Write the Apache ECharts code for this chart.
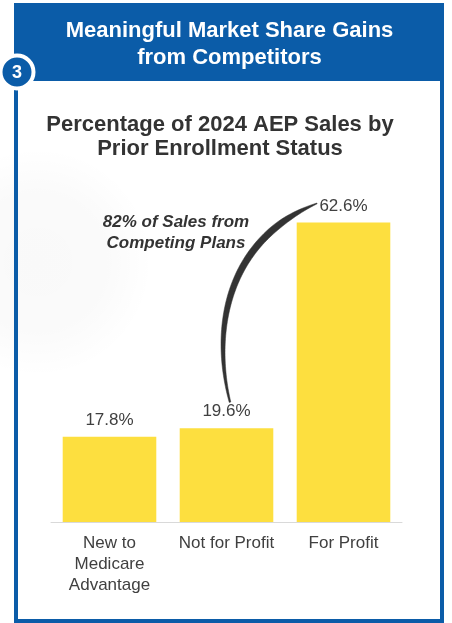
<!DOCTYPE html>
<html>
<head>
<meta charset="utf-8">
<script src="https://cdn.jsdelivr.net/npm/echarts@6/dist/echarts.min.js"></script>
<style>
  html, body { margin: 0; padding: 0; background: #ffffff; }
  #chart { width: 452px; height: 623px; }
</style>
</head>
<body>
<div id="chart"></div>
<script>
// Share of 2024 AEP sales by the member's prior enrollment status
const categories = ['New to\nMedicare\nAdvantage', 'Not for Profit', 'For Profit'];
const salesShare = [17.8, 19.6, 62.6];
const headerLines = ['Meaningful Market Share Gains', 'from Competitors'];
const chartTitleLines = ['Percentage of 2024 AEP Sales by', 'Prior Enrollment Status'];
const calloutLines = ['82% of Sales from', 'Competing Plans'];
const sectionNumber = '3';

const BLUE = '#0b5ca8';
const YELLOW = '#fddf3f';
const TEXT = '#404040';
const FONT = '"Liberation Sans", Arial, sans-serif';

const chart = echarts.init(document.getElementById('chart'), null, { renderer: 'canvas' });

// Static panel decoration: frame, header band, numbered badge, headings
function panelGraphics() {
  return [
    {
      type: 'circle', silent: true, z: 0,
      shape: { cx: 38, cy: 262, r: 115 },
      style: {
        fill: new echarts.graphic.RadialGradient(0.5, 0.5, 0.5, [
          { offset: 0, color: 'rgba(0,0,0,0.025)' },
          { offset: 0.6, color: 'rgba(0,0,0,0.018)' },
          { offset: 1, color: 'rgba(0,0,0,0)' }
        ])
      }
    },
    {
      type: 'rect', silent: true, z: 1,
      shape: { x: 16, y: 5, width: 426, height: 616 },
      style: { fill: 'none', stroke: BLUE, lineWidth: 4 }
    },
    {
      type: 'rect', silent: true, z: 2,
      shape: { x: 14, y: 3, width: 430, height: 78 },
      style: { fill: BLUE }
    },
    {
      type: 'text', silent: true, z: 3,
      style: {
        x: 229.5, y: 44.5, text: headerLines.join('\n'),
        fill: '#ffffff', font: 'bold 22px ' + FONT,
        align: 'center', verticalAlign: 'middle', lineHeight: 27
      }
    },
    {
      type: 'circle', silent: true, z: 4,
      shape: { cx: 17, cy: 72, r: 16.5 },
      style: { fill: BLUE, stroke: '#ffffff', lineWidth: 4 }
    },
    {
      type: 'text', silent: true, z: 5,
      style: {
        x: 17, y: 73, text: sectionNumber,
        fill: '#ffffff', font: 'bold 18px ' + FONT,
        align: 'center', verticalAlign: 'middle'
      }
    },
    {
      type: 'text', silent: true, z: 3,
      style: {
        x: 220, y: 136.5, text: chartTitleLines.join('\n'),
        fill: '#333333', font: 'bold 22px ' + FONT,
        align: 'center', verticalAlign: 'middle', lineHeight: 24
      }
    },
    {
      type: 'text', silent: true, z: 3,
      style: {
        x: 176, y: 232.5, text: calloutLines.join('\n'),
        fill: '#333333', font: 'italic bold 17px ' + FONT,
        align: 'center', verticalAlign: 'middle', lineHeight: 21
      }
    }
  ];
}

chart.setOption({
  backgroundColor: '#ffffff',
  animation: false,
  grid: { left: 51, right: 50, top: 187, bottom: 101, containLabel: false },
  xAxis: {
    type: 'category',
    data: categories,
    axisLine: { show: true, lineStyle: { color: '#d9d9d9', width: 1 } },
    axisTick: { show: false },
    axisLabel: {
      color: TEXT, fontSize: 17, fontFamily: FONT,
      lineHeight: 21, margin: 11, interval: 0
    }
  },
  yAxis: {
    type: 'value', min: 0, max: 70,
    show: false,
    splitLine: { show: false }
  },
  series: [{
    type: 'bar',
    data: salesShare,
    barWidth: '80%',
    itemStyle: { color: YELLOW },
    label: {
      show: true, position: 'top', distance: 8,
      color: TEXT, fontSize: 17, fontFamily: FONT,
      formatter: p => p.value.toFixed(1) + '%'
    },
    z: 2
  }],
  graphic: panelGraphics()
});

// Brush-style curved connector from the Not for Profit label up to the For Profit label
function connectorPolygon() {
  const a = chart.convertToPixel({ seriesIndex: 0 }, [1, salesShare[1]]);
  const b = chart.convertToPixel({ seriesIndex: 0 }, [2, salesShare[2]]);
  const p0 = [a[0] + 3.5, a[1] - 26];
  const p3 = [b[0] - 26.5, b[1] - 19];
  const p1 = [p0[0] - 18, p0[1] - 70];
  const p2 = [p3[0] - 92, p3[1] + 37];
  const n = 80;
  const pts = [];
  for (let i = 0; i <= n; i++) {
    const t = i / n, u = 1 - t;
    const x = u*u*u*p0[0] + 3*u*u*t*p1[0] + 3*u*t*t*p2[0] + t*t*t*p3[0];
    const y = u*u*u*p0[1] + 3*u*u*t*p1[1] + 3*u*t*t*p2[1] + t*t*t*p3[1];
    const dx = 3*u*u*(p1[0]-p0[0]) + 6*u*t*(p2[0]-p1[0]) + 3*t*t*(p3[0]-p2[0]);
    const dy = 3*u*u*(p1[1]-p0[1]) + 6*u*t*(p2[1]-p1[1]) + 3*t*t*(p3[1]-p2[1]);
    const len = Math.hypot(dx, dy) || 1;
    const w = t < 0.8
      ? 1.6 + 5.2 * Math.sin(Math.PI / 2 * t / 0.8)
      : 0.8 + 6.0 * Math.cos(Math.PI / 2 * (t - 0.8) / 0.2);
    pts.push({ x, y, nx: -dy / len, ny: dx / len, h: w / 2 });
  }
  const left = pts.map(p => [p.x + p.nx * p.h, p.y + p.ny * p.h]);
  const right = pts.map(p => [p.x - p.nx * p.h, p.y - p.ny * p.h]).reverse();
  return left.concat(right);
}

chart.setOption({
  graphic: panelGraphics().concat([{
    type: 'polygon', silent: true, z: 10,
    shape: { points: connectorPolygon() },
    style: { fill: '#333333', stroke: '#333333', lineWidth: 0.5 }
  }])
}, { replaceMerge: ['graphic'] });
</script>
</body>
</html>
